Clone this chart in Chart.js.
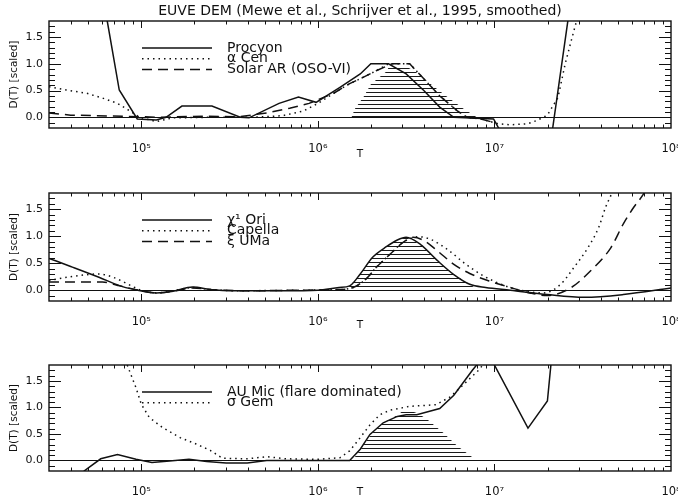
<!DOCTYPE html>
<html>
<head>
<meta charset="utf-8">
<script src="https://cdn.jsdelivr.net/npm/chart.js@4.4.1/dist/chart.umd.min.js"></script>
<style>
  html, body { margin: 0; padding: 0; background: #fff; }
  #page { position: relative; width: 678px; height: 504px; overflow: hidden; }
  #page canvas { position: absolute; left: 0; }
</style>
</head>
<body>
<div id="page">
  <canvas id="dem1" width="678" height="163" style="top:0px"></canvas>
  <canvas id="dem2" width="678" height="164" style="top:170px"></canvas>
  <canvas id="dem3" width="678" height="161" style="top:340px"></canvas>
</div>
<script>
// ===== data: log10(T) and scaled D(T) =====

// panel 1
const procyonLogT = [4.75, 4.807, 4.875, 4.977, 5.085, 5.14, 5.23, 5.40, 5.56, 5.61, 5.78, 5.89, 5.99, 6.125, 6.24, 6.30, 6.40, 6.50, 6.60, 6.69, 6.77, 6.995, 7.02, 7.10, 7.30, 7.45];
const procyonD = [2.6, 1.8, 0.51, -0.03, -0.05, 0.0, 0.21, 0.21, 0.0, -0.01, 0.26, 0.38, 0.28, 0.56, 0.81, 1.0, 1.0, 0.81, 0.50, 0.19, 0.0, -0.03, -0.18, -0.6, -0.9, 2.6];

const alphaCenLogT = [4.477, 4.574, 4.69, 4.78, 4.865, 4.93, 4.99, 5.085, 5.18, 5.40, 5.63, 5.80, 5.92, 6.0, 6.09, 6.18, 6.24, 6.33, 6.40, 6.52, 6.60, 6.69, 6.79, 6.845, 6.92, 7.02, 7.09, 7.19, 7.24, 7.30, 7.36, 7.40, 7.43, 7.46, 7.50];
const alphaCenD = [0.57, 0.51, 0.45, 0.36, 0.26, 0.13, 0.0, -0.08, -0.01, 0.0, 0.0, 0.03, 0.12, 0.26, 0.45, 0.63, 0.72, 0.87, 1.0, 1.0, 0.72, 0.40, 0.12, 0.0, -0.03, -0.12, -0.14, -0.12, -0.06, 0.04, 0.37, 0.99, 1.37, 1.74, 2.3];

const solarArLogT = [4.477, 4.60, 4.90, 5.10, 5.35, 5.55, 5.71, 5.84, 5.95, 6.09, 6.18, 6.24, 6.33, 6.42, 6.52, 6.60, 6.69, 6.79, 6.845, 6.92, 7.0];
const solarArD = [0.08, 0.04, 0.02, 0.0, 0.02, 0.01, 0.08, 0.17, 0.26, 0.45, 0.63, 0.72, 0.87, 1.0, 1.0, 0.72, 0.40, 0.12, 0.0, -0.03, -0.1];

const hatch1LogT = [6.19, 6.21, 6.26, 6.30, 6.39, 6.40, 6.51, 6.55, 6.64, 6.73, 6.825, 6.90];
const hatch1D = [0.0, 0.16, 0.39, 0.62, 0.86, 0.93, 0.93, 0.86, 0.62, 0.39, 0.16, 0.0];

// panel 2
const chiOriLogT = [4.477, 4.60, 4.76, 4.88, 4.95, 5.085, 5.18, 5.29, 5.40, 5.52, 5.80, 6.0, 6.12, 6.18, 6.24, 6.31, 6.39, 6.45, 6.50, 6.58, 6.68, 6.77, 6.86, 6.95, 7.09, 7.30, 7.51, 7.73, 8.0];
const chiOriD = [0.59, 0.44, 0.24, 0.08, 0.02, -0.05, -0.02, 0.06, 0.01, -0.01, -0.01, 0.0, 0.05, 0.08, 0.30, 0.61, 0.81, 0.93, 0.98, 0.85, 0.54, 0.29, 0.11, 0.05, 0.0, -0.08, -0.13, -0.08, 0.04];

const capellaLogT = [4.477, 4.60, 4.76, 4.84, 4.95, 4.99, 5.085, 5.18, 5.29, 5.40, 5.55, 5.90, 6.10, 6.20, 6.27, 6.33, 6.41, 6.48, 6.57, 6.64, 6.74, 6.83, 6.93, 7.03, 7.12, 7.28, 7.375, 7.45, 7.53, 7.59, 7.63, 7.66, 7.70];
const capellaD = [0.18, 0.25, 0.30, 0.24, 0.07, 0.01, -0.05, -0.01, 0.05, 0.01, -0.01, 0.0, 0.01, 0.05, 0.20, 0.42, 0.67, 0.88, 0.99, 0.94, 0.74, 0.50, 0.28, 0.12, 0.02, -0.05, 0.11, 0.42, 0.79, 1.16, 1.54, 1.76, 2.1];

const xiUmaLogT = [4.477, 4.60, 4.78, 4.88, 4.97, 5.085, 5.18, 5.29, 5.40, 5.60, 5.90, 6.10, 6.20, 6.27, 6.33, 6.41, 6.48, 6.54, 6.60, 6.68, 6.77, 6.86, 6.98, 7.09, 7.20, 7.30, 7.43, 7.545, 7.66, 7.73, 7.79, 7.84, 7.88];
const xiUmaD = [0.15, 0.15, 0.15, 0.08, 0.01, -0.05, -0.02, 0.04, 0.01, -0.01, 0.0, 0.01, 0.05, 0.20, 0.42, 0.67, 0.88, 0.98, 0.92, 0.72, 0.48, 0.31, 0.16, 0.05, -0.05, -0.10, 0.04, 0.36, 0.79, 1.23, 1.54, 1.76, 2.0];

const hatch2LogT = [6.06, 6.17, 6.18, 6.24, 6.31, 6.39, 6.45, 6.50, 6.58, 6.68, 6.77, 6.86, 6.90];
const hatch2D = [0.02, 0.04, 0.08, 0.30, 0.61, 0.81, 0.93, 0.98, 0.85, 0.54, 0.29, 0.11, 0.02];

// panel 3
const auMicLogT = [4.62, 4.676, 4.77, 4.865, 4.97, 5.06, 5.16, 5.27, 5.37, 5.48, 5.60, 5.71, 6.18, 6.24, 6.295, 6.37, 6.45, 6.50, 6.56, 6.69, 6.77, 6.875, 6.96, 7.19, 7.30, 7.34];
const auMicD = [-0.5, -0.2, 0.03, 0.11, 0.02, -0.04, -0.01, 0.02, -0.02, -0.05, -0.05, 0.0, 0.0, 0.21, 0.49, 0.71, 0.83, 0.86, 0.86, 0.98, 1.23, 1.70, 2.05, 0.61, 1.12, 2.5];

const sigmaGemLogT = [4.88, 4.92, 4.97, 5.0, 5.045, 5.12, 5.22, 5.31, 5.39, 5.46, 5.60, 5.71, 5.82, 6.0, 6.125, 6.18, 6.24, 6.295, 6.35, 6.41, 6.52, 6.67, 6.75, 6.85, 6.91, 6.97];
const sigmaGemD = [2.3, 1.8, 1.37, 1.06, 0.81, 0.62, 0.43, 0.31, 0.19, 0.04, 0.03, 0.07, 0.03, 0.02, 0.05, 0.18, 0.43, 0.67, 0.86, 0.95, 1.02, 1.05, 1.20, 1.51, 1.70, 1.95];

const hatch3LogT = [6.20, 6.245, 6.30, 6.37, 6.45, 6.48, 6.53, 6.57, 6.62, 6.71, 6.79, 6.89];
const hatch3D = [0.02, 0.22, 0.49, 0.71, 0.85, 0.93, 0.93, 0.88, 0.77, 0.52, 0.27, 0.02];

// axis ticks
const yMin = -0.2, yMax = 1.8, yStep = 0.1;
const tMin = 3e4, tMax = 1e8;
const decades = [4, 5, 6, 7];

// ===== styling =====
const FONT = '"DejaVu Sans", "Liberation Sans", sans-serif';
const INK = '#111';
const DOT = [1.5, 4];
const DASH = [10, 6];
const SUP = { 4: '\u2074', 5: '\u2075', 6: '\u2076', 7: '\u2077', 8: '\u2078' };

const series = (logT, d) => logT.map((lt, i) => ({ x: 10 ** lt, y: d[i] }));
const isDecade = v => Math.abs(Math.log10(v) - Math.round(Math.log10(v))) < 1e-9;
const isHalf = v => Math.abs(v * 2 - Math.round(v * 2)) < 1e-6;

function hatchPattern() {
  const c = document.createElement("canvas");
  c.width = 8;
  c.height = 4;
  const g = c.getContext("2d");
  g.fillStyle = "#1a1a1a";
  g.fillRect(0, 0, 8, 1);
  return g.createPattern(c, "repeat");
}
const HATCH = hatchPattern();

const curve = (label, logT, d, dash, smooth) => ({
  label,
  data: series(logT, d),
  borderColor: INK,
  borderWidth: 1.5,
  borderDash: dash,
  cubicInterpolationMode: smooth ? "monotone" : "default",
  order: 0,
});

const hatch = (logT, d, base) => ({
  data: series(logT, d),
  borderColor: "rgba(0,0,0,0)",
  borderWidth: 1,
  backgroundColor: HATCH,
  fill: { value: base },
  order: 5,
});

// IDL style frame: box plus inward ticks on all four sides
const idlAxes = {
  id: "idlAxes",
  afterDatasetsDraw(chart) {
    const { ctx, chartArea: a, scales: { x, y } } = chart;
    ctx.save();
    ctx.strokeStyle = INK;
    ctx.lineWidth = 1;
    ctx.setLineDash([]);
    ctx.beginPath();
    x.ticks.forEach(t => {
      const px = Math.round(x.getPixelForValue(t.value)) + 0.5;
      if (px <= a.left + 1 || px >= a.right - 1) return;
      const len = isDecade(t.value) ? 7 : 3.5;
      ctx.moveTo(px, a.bottom);
      ctx.lineTo(px, a.bottom - len);
      ctx.moveTo(px, a.top);
      ctx.lineTo(px, a.top + len);
    });
    y.ticks.forEach(t => {
      const py = Math.round(y.getPixelForValue(t.value)) + 0.5;
      if (py <= a.top + 1 || py >= a.bottom - 1) return;
      const len = isHalf(t.value) ? 12 : 6;
      ctx.moveTo(a.left, py);
      ctx.lineTo(a.left + len, py);
      ctx.moveTo(a.right, py);
      ctx.lineTo(a.right - len, py);
    });
    ctx.stroke();
    ctx.lineWidth = 1.4;
    ctx.strokeRect(a.left, a.top, a.right - a.left, a.bottom - a.top);
    ctx.restore();
  }
};

// legend stacked inside the plot, rows overlapping like the original
const stackLegend = {
  id: "stackLegend",
  afterDatasetsDraw(chart, args, opts) {
    const { ctx, chartArea: a } = chart;
    ctx.save();
    ctx.font = "14px " + FONT;
    ctx.fillStyle = INK;
    ctx.textBaseline = "alphabetic";
    let row = 0;
    chart.data.datasets.forEach(ds => {
      if (!ds.label) return;
      const yy = a.top + opts.y0 + row * opts.dy;
      ctx.strokeStyle = ds.borderColor;
      ctx.lineWidth = ds.borderWidth;
      ctx.setLineDash(ds.borderDash || []);
      ctx.beginPath();
      ctx.moveTo(a.left + opts.x0, yy);
      ctx.lineTo(a.left + opts.x1, yy);
      ctx.stroke();
      ctx.fillText(ds.label, a.left + opts.tx, yy + 3.5);
      row++;
    });
    ctx.restore();
  }
};

const panels = [
  {
    id: "dem1", padTop: 0, xAxisH: 35,
    title: "EUVE DEM (Mewe et al., Schrijver et al., 1995, smoothed)",
    sets: [
      curve("Procyon", procyonLogT, procyonD, [], false),
      curve("\u03b1 Cen", alphaCenLogT, alphaCenD, DOT, false),
      curve("Solar AR (OSO-VI)", solarArLogT, solarArD, DASH, false),
      hatch(hatch1LogT, hatch1D, 0.0),
    ],
  },
  {
    id: "dem2", padTop: 23, xAxisH: 33,
    sets: [
      curve("\u03c7\u00b9 Ori", chiOriLogT, chiOriD, [], true),
      curve("Capella", capellaLogT, capellaD, DOT, true),
      curve("\u03be UMa", xiUmaLogT, xiUmaD, DASH, true),
      hatch(hatch2LogT, hatch2D, 0.02),
    ],
  },
  {
    id: "dem3", padTop: 25, xAxisH: 30,
    sets: [
      curve("AU Mic (flare dominated)", auMicLogT, auMicD, [], false),
      curve("\u03c3 Gem", sigmaGemLogT, sigmaGemD, DOT, false),
      hatch(hatch3LogT, hatch3D, 0.02),
    ],
  },
];

panels.forEach(p => {
  new Chart(document.getElementById(p.id), {
    type: "line",
    data: { datasets: p.sets },
    options: {
      responsive: false,
      animation: false,
      devicePixelRatio: 1,
      events: [],
      layout: { padding: { top: p.padTop, right: 7, left: 0, bottom: 0 } },
      elements: { point: { radius: 0 }, line: { tension: 0 } },
      plugins: {
        legend: { display: false },
        tooltip: { enabled: false },
        title: {
          display: !!p.title,
          text: p.title || "",
          fullSize: false,
          color: INK,
          font: { family: FONT, size: 14, weight: "normal", lineHeight: 1.2 },
          padding: { top: 2.5, bottom: 1.7 },
        },
        stackLegend: { x0: 93, x1: 163, tx: 178, y0: 27, dy: 10.7 },
      },
      scales: {
        x: {
          type: "logarithmic",
          min: tMin,
          max: tMax,
          afterBuildTicks: scale => {
            const ticks = [];
            decades.forEach(e => {
              for (let k = 1; k <= 9; k++) {
                const v = k * 10 ** e;
                if (v >= tMin && v <= tMax) ticks.push({ value: v });
              }
            });
            ticks.push({ value: tMax });
            scale.ticks = ticks;
          },
          afterFit: scale => {
            scale.height = p.xAxisH;
            scale.paddingLeft = 0;
            scale.paddingRight = 0;
          },
          grid: { display: false },
          border: { display: false },
          ticks: {
            autoSkip: false,
            maxRotation: 0,
            padding: 6,
            color: INK,
            font: { family: FONT, size: 11.5 },
            callback: v => (isDecade(v) ? "10" + SUP[Math.round(Math.log10(v))] : ""),
          },
          title: {
            display: true,
            text: "T",
            color: INK,
            font: { family: FONT, size: 10.5 },
            padding: { top: 0, bottom: 2 },
          },
        },
        y: {
          min: yMin,
          max: yMax,
          afterFit: scale => {
            scale.width = 49;
            scale.paddingTop = 0;
            scale.paddingBottom = 0;
          },
          grid: {
            drawTicks: false,
            lineWidth: 1,
            color: c => (c.tick && Math.abs(c.tick.value) < 1e-9 ? INK : "rgba(0,0,0,0)"),
          },
          border: { display: false },
          ticks: {
            stepSize: yStep,
            autoSkip: false,
            padding: 6,
            color: INK,
            font: { family: FONT, size: 11 },
            callback: v => (isHalf(v) ? v.toFixed(1) : ""),
          },
          title: {
            display: true,
            text: "D(T) [scaled]",
            color: INK,
            font: { family: FONT, size: 10.5 },
            padding: { top: 8, bottom: 0 },
          },
        },
      },
    },
    plugins: [idlAxes, stackLegend],
  });
});
</script>
</body>
</html>
